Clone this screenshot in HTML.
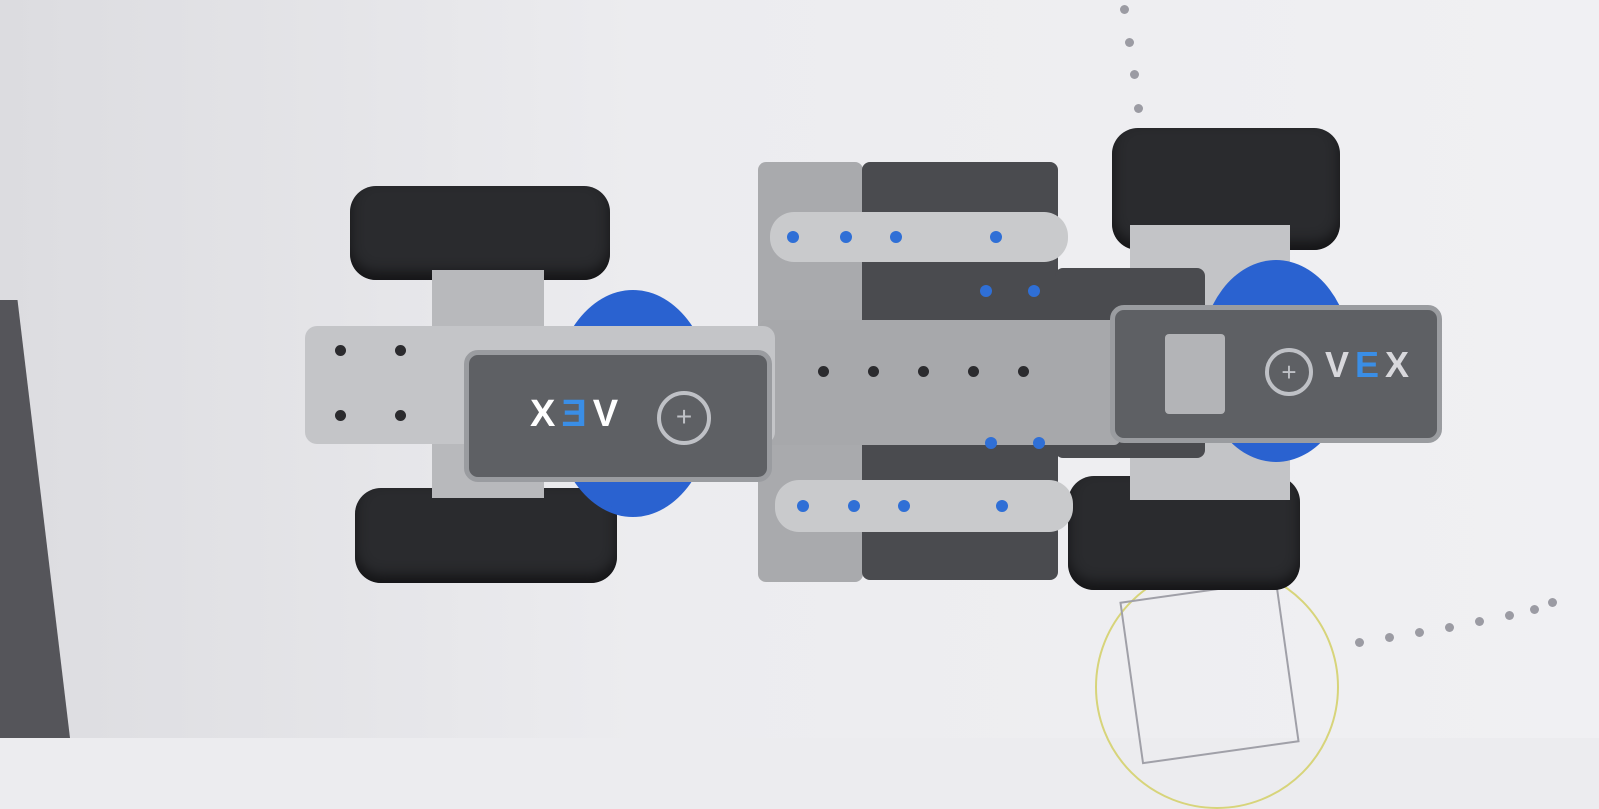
<!DOCTYPE html>
<html style="background:#ececef"><head><meta charset="utf-8"><style>
html,body{margin:0;padding:0}
body{width:1599px;height:738px;overflow:hidden;background:#e6e6ea;font-family:"Liberation Sans",sans-serif;position:relative}
.a{position:absolute}
.wheel{background:#2a2b2e;border-radius:26px;box-shadow:inset 0 -8px 12px #151517}
.lg{background:#a9aaad;border-radius:8px}
.dk{background:#4a4b4f;border-radius:8px}
.bar{background:#c9cacc;border-radius:24px}
.gear{background:#2a62d0;border-radius:50%;border:6px dotted #2a62d0}
.mot{background:#5e6064;border-radius:14px;border:5px solid #9a9ca0}
.dot{position:absolute;width:12px;height:12px;border-radius:50%;background:#2f6fd6}
.hole{position:absolute;width:11px;height:11px;border-radius:50%;background:#2b2b2e}
.pd{position:absolute;width:9px;height:9px;border-radius:50%;background:#9b9ba3}
</style></head><body>
<div class="a" style="left:0;top:0;width:1599px;height:738px;background:linear-gradient(90deg,#dcdce0,#ececef 40%,#f0f0f3)"></div>
<div class="a" style="left:0;top:300px;width:70px;height:438px;background:#55555a;clip-path:polygon(0 0,25% 0,100% 100%,0 100%)"></div>
<div class="a" style="left:1095px;top:565px;width:240px;height:240px;border-radius:50%;border:2px solid #d7d47a"></div>
<div class="a" style="left:1130px;top:590px;width:155px;height:160px;border:2px solid #a0a0a8;transform:rotate(-8deg)"></div>
<div class="pd" style="left:1120px;top:5px"></div>
<div class="pd" style="left:1125px;top:38px"></div>
<div class="pd" style="left:1130px;top:70px"></div>
<div class="pd" style="left:1134px;top:104px"></div>
<div class="pd" style="left:1355px;top:638px"></div>
<div class="pd" style="left:1385px;top:633px"></div>
<div class="pd" style="left:1415px;top:628px"></div>
<div class="pd" style="left:1445px;top:623px"></div>
<div class="pd" style="left:1475px;top:617px"></div>
<div class="pd" style="left:1505px;top:611px"></div>
<div class="pd" style="left:1530px;top:605px"></div>
<div class="pd" style="left:1548px;top:598px"></div>

<div class="a wheel" style="left:350px;top:186px;width:260px;height:94px"></div>
<div class="a wheel" style="left:355px;top:488px;width:262px;height:95px"></div>
<div class="a" style="left:432px;top:270px;width:112px;height:228px;background:#b8b9bc"></div>
<div class="a wheel" style="left:1112px;top:128px;width:228px;height:122px"></div>
<div class="a wheel" style="left:1068px;top:476px;width:232px;height:114px"></div>
<div class="a" style="left:1130px;top:225px;width:160px;height:275px;background:#c3c4c7"></div>

<div class="a gear" style="left:552px;top:290px;width:150px;height:215px;border-radius:50%"></div>
<div class="a lg" style="left:758px;top:162px;width:105px;height:420px"></div>
<div class="a dk" style="left:862px;top:162px;width:196px;height:418px"></div>
<div class="a dk" style="left:1055px;top:268px;width:150px;height:190px"></div>
<div class="a bar" style="left:770px;top:212px;width:298px;height:50px"></div>
<div class="a bar" style="left:775px;top:480px;width:298px;height:52px"></div>
<div class="a" style="left:760px;top:320px;width:360px;height:125px;background:#a7a8ab;border-radius:6px"></div>
<div class="a" style="left:305px;top:326px;width:470px;height:118px;background:#c4c5c8;border-radius:12px"></div>
<div class="a gear" style="left:1200px;top:260px;width:140px;height:190px"></div>

<div class="dot" style="left:787px;top:231px"></div>
<div class="dot" style="left:840px;top:231px"></div>
<div class="dot" style="left:890px;top:231px"></div>
<div class="dot" style="left:990px;top:231px"></div>
<div class="dot" style="left:797px;top:500px"></div>
<div class="dot" style="left:848px;top:500px"></div>
<div class="dot" style="left:898px;top:500px"></div>
<div class="dot" style="left:996px;top:500px"></div>
<div class="dot" style="left:980px;top:285px"></div>
<div class="dot" style="left:1028px;top:285px"></div>
<div class="dot" style="left:985px;top:437px"></div>
<div class="dot" style="left:1033px;top:437px"></div>
<div class="hole" style="left:818px;top:366px"></div>
<div class="hole" style="left:868px;top:366px"></div>
<div class="hole" style="left:918px;top:366px"></div>
<div class="hole" style="left:968px;top:366px"></div>
<div class="hole" style="left:1018px;top:366px"></div>
<div class="hole" style="left:335px;top:345px"></div>
<div class="hole" style="left:395px;top:345px"></div>
<div class="hole" style="left:335px;top:410px"></div>
<div class="hole" style="left:395px;top:410px"></div>

<div class="a mot" style="left:464px;top:350px;width:298px;height:122px;color:#fff">
 <div class="a" style="left:55px;top:38px;font-size:38px;font-weight:bold;letter-spacing:6px;transform:scaleX(-1)">V<span style="color:#3a8ee6">E</span>X</div>
 <div class="a" style="left:188px;top:36px;width:46px;height:46px;border-radius:50%;border:4px solid #bfc1c6;color:#bfc1c6;font-size:28px;text-align:center;line-height:44px">+</div>
</div>
<div class="a mot" style="left:1110px;top:305px;width:322px;height:128px;color:#fff">
 <div class="a" style="left:50px;top:24px;width:60px;height:80px;background:#b3b4b7;border-radius:4px"></div>
 <div class="a" style="left:150px;top:38px;width:40px;height:40px;border-radius:50%;border:4px solid #bfc1c6;color:#bfc1c6;font-size:26px;text-align:center;line-height:40px">+</div>
 <div class="a" style="left:210px;top:34px;font-size:36px;font-weight:bold;letter-spacing:6px;color:#d8d8dc">V<span style="color:#3a8ee6">E</span>X</div>
</div>
</body></html>
